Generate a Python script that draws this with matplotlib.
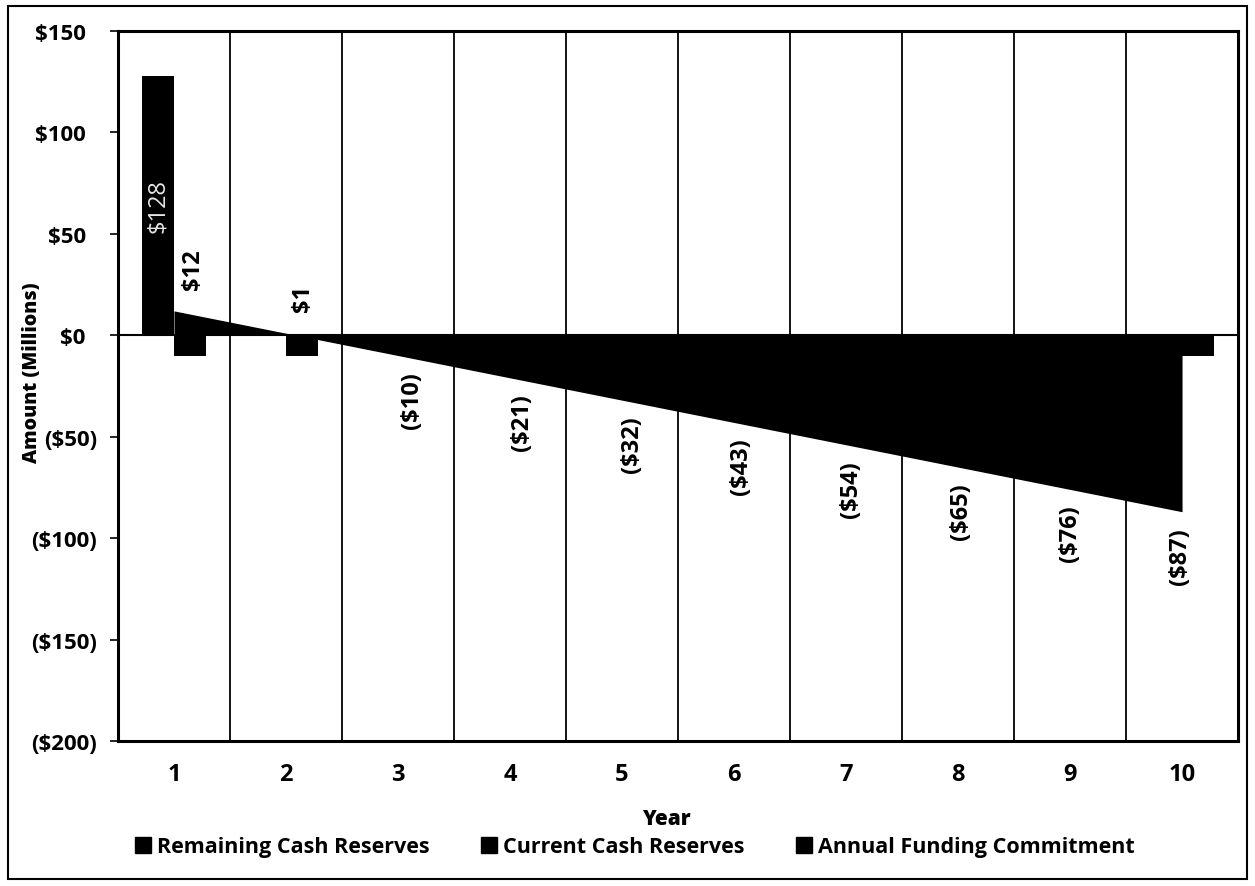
"""
Cash reserves vs. annual funding commitment, years 1-10 (scanned Excel chart recreation).
"""

import matplotlib
matplotlib.use('Agg')
import matplotlib.pyplot as plt
from matplotlib.lines import Line2D
from matplotlib.patches import Rectangle
import numpy as np

# ─── Data ────────────────────────────────────────────────────────────────────
years = [1, 2, 3, 4, 5, 6, 7, 8, 9, 10]
remaining = [12, 1, -10, -21, -32, -43, -54, -65, -76, -87]
current = [128, 0, 0, 0, 0, 0, 0, 0, 0, 0]
annual = [-10, -10, -10, -10, -10, -10, -10, -10, -10, -10]
yticks = [-200, -150, -100, -50, 0, 50, 100, 150]
ytick_labels = ["($200)", "($150)", "($100)", "($50)", "$0  ", "$50  ", "$100  ", "$150  "]

# ─── Style ───────────────────────────────────────────────────────────────────
plt.rcParams['font.family'] = ['Open Sans', 'DejaVu Sans']
plt.rcParams['font.weight'] = 'bold'
INK = 'black'
BAR_W = 0.286

fig = plt.figure(figsize=(12.55, 8.87), dpi=100)
ax = fig.add_axes([0.094, 0.1635, 0.8925, 0.8005])

x = np.array(years, dtype=float)

# area: remaining cash reserves
ax.fill_between(x, remaining, 0, color=INK, lw=0, zorder=3)

# bars: current cash reserves (left) and annual funding commitment (right)
cur = np.array(current, dtype=float)
mask = cur != 0
ax.bar(x[mask] - BAR_W / 2, cur[mask], width=BAR_W, color=INK, zorder=4)
ax.bar(x + BAR_W / 2, annual, width=BAR_W, color=INK, zorder=4)

# ─── Axes ────────────────────────────────────────────────────────────────────
ax.set_xlim(0.5, 10.5)
ax.set_ylim(-200, 150)
ax.set_xticks(years)
ax.set_xticklabels([str(y) for y in years], fontsize=17, fontweight='bold')
ax.set_xticks(np.arange(1.5, 10.5, 1.0), minor=True)
ax.grid(which='minor', axis='x', color=INK, lw=1.3, zorder=1)
ax.tick_params(axis='x', which='both', length=0, pad=15)
ax.set_yticks(yticks)
ax.set_yticklabels(ytick_labels, fontsize=16, fontweight='bold')
ax.tick_params(axis='y', length=6, width=1.2, color=INK, pad=9)
ax.axhline(0, color=INK, lw=1.5, zorder=2)
for s in ax.spines.values():
    s.set_linewidth(2.2)
    s.set_color(INK)

ax.set_xlabel("Year", fontsize=15, fontweight='heavy')
ax.xaxis.set_label_coords(0.49, -0.095)
ax.set_ylabel("Amount (Millions)", fontsize=14, fontweight='heavy')
ax.yaxis.set_label_coords(-0.068, 0.52)

# ─── Data labels ─────────────────────────────────────────────────────────────
ax.text(x[0] - BAR_W / 2, current[0] / 2, f"${current[0]}", rotation=90,
        ha='center', va='center', fontsize=17, fontweight='normal',
        color='#e6e6e6', zorder=6)

for i, (xx, v) in enumerate(zip(x, remaining)):
    dx = 0.17 - 0.021 * i
    txt = f"${v}" if v >= 0 else f"(${-v})"
    if v >= 0:
        ax.annotate(txt, (xx + dx, v), xytext=(0, 16), textcoords='offset points',
                    rotation=90, ha='center', va='bottom', fontsize=17,
                    fontweight='bold', color=INK, zorder=6)
    else:
        ax.annotate(txt, (xx + dx, v), xytext=(0, -11), textcoords='offset points',
                    rotation=90, ha='center', va='top', fontsize=17,
                    fontweight='bold', color=INK, zorder=6)

# ─── Legend ──────────────────────────────────────────────────────────────────
names = ["Remaining Cash Reserves", "Current Cash Reserves", "Annual Funding Commitment"]
handles = [Line2D([], [], marker='s', ls='none', color=INK, markersize=11) for _ in names]
fig.legend(handles, names, loc='center', bbox_to_anchor=(0.506, 0.044), ncol=3,
           frameon=False, handlelength=0.7, handletextpad=0.3, columnspacing=2.4,
           prop={'size': 15.5, 'weight': 'bold'})

# outer chart frame
fig.add_artist(Rectangle((0.006, 0.008), 0.988, 0.984, transform=fig.transFigure,
                         fill=False, ec=INK, lw=1.5))

fig.savefig("out.png", dpi=100, facecolor='white')
